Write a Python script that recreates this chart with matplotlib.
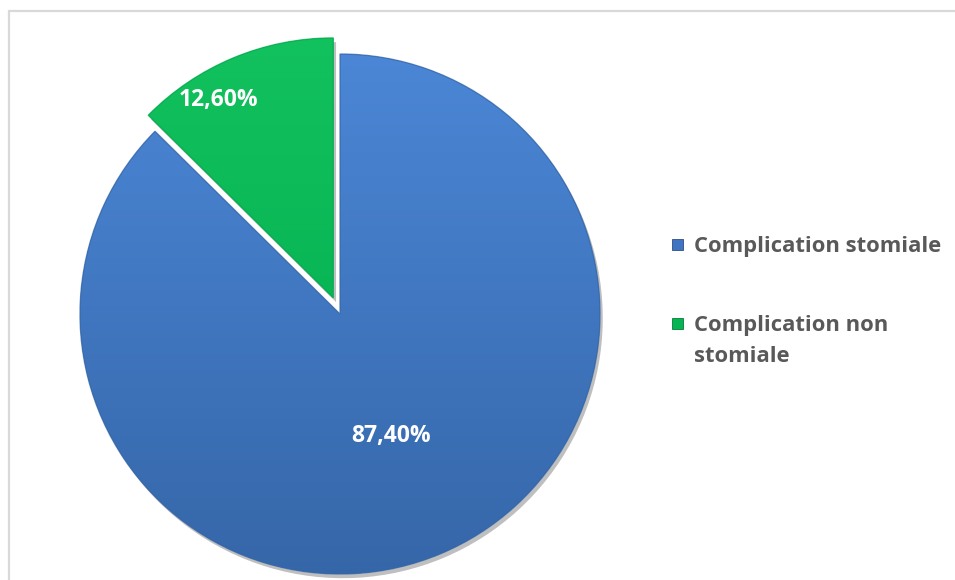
import numpy as np
import matplotlib
matplotlib.use("Agg")
import matplotlib.pyplot as plt
import matplotlib.patheffects as pe
from matplotlib.patches import Rectangle, PathPatch
from matplotlib.colors import LinearSegmentedColormap

categories = ["Complication stomiale", "Complication non\nstomiale"]
values = [87.40, 12.60]
explode = [0.0, 0.067]

# top/bottom shades for each slice
shades = [("#4c88d8", "#3566a8"), ("#12c25e", "#00a94c")]
legend_colors = ["#3f74c2", "#06b552"]
label_dist = [0.51, 0.88]
label_turn = [0.0, 7.5]   # degrees added to the slice mid-angle

W, H = 955, 580
cx, cy, R = 340, 266, 260   # pie centre (pixels from bottom) and radius
M = 1.15                    # axes half-width in pie radii

fig = plt.figure(figsize=(W / 100, H / 100), dpi=100)
fig.patch.set_facecolor("white")

# light chart-area frame
fig.add_artist(Rectangle((9 / W, -0.1), 1.2, (H - 11) / H + 0.1,
                         transform=fig.transFigure, fill=False,
                         edgecolor="#d9d9d9", linewidth=1.6))

ax = fig.add_axes([(cx - M * R) / W, (cy - M * R) / H, 2 * M * R / W, 2 * M * R / H])
ax.axis("off")

wedges, _ = ax.pie(values, explode=explode, startangle=90, counterclock=False,
                   radius=1, center=(0, 0), frame=False,
                   colors=[s[1] for s in shades],
                   wedgeprops=dict(linewidth=0))

grad = np.linspace(0, 1, 256).reshape(-1, 1)
for w, (top, bot) in zip(wedges, shades):
    w.set_clip_on(False)
    w.set_path_effects([pe.SimplePatchShadow(offset=(2, -3), shadow_rgbFace="#000000",
                                             alpha=0.25), pe.Normal()])
    cmap = LinearSegmentedColormap.from_list("g", [bot, top])
    im = ax.imshow(grad, cmap=cmap, origin="lower", extent=(-1.1, 1.1, -1.02, 1.08),
                   aspect="auto", zorder=w.get_zorder() + 0.1, interpolation="bilinear")
    im.set_clip_path(w)
    # thin rim for a slightly bevelled look
    rim = PathPatch(w.get_path(), transform=w.get_transform(), fill=False,
                    edgecolor=bot, linewidth=1.0, alpha=0.7,
                    zorder=w.get_zorder() + 0.2)
    rim.set_clip_on(False)
    ax.add_patch(rim)
ax.set_xlim(-M, M)
ax.set_ylim(-M, M)

# percentage labels
for w, v, d, t in zip(wedges, values, label_dist, label_turn):
    ang = np.deg2rad((w.theta1 + w.theta2) / 2 + t)
    x0, y0 = w.center
    ax.text(x0 + d * np.cos(ang), y0 + d * np.sin(ang),
            f"{v:.2f}%".replace(".", ","), ha="center", va="center",
            color="white", fontsize=16.5, fontweight="bold",
            family="Open Sans", zorder=5)

# legend
leg_y = [244, 323]
for col, lab, ly in zip(legend_colors, categories, leg_y):
    fig.add_artist(Rectangle((672 / W, (H - ly - 5.5) / H), 11 / W, 11 / H,
                             transform=fig.transFigure, facecolor=col,
                             edgecolor="#2d4f80" if col == legend_colors[0] else "#067a3a",
                             linewidth=0.6))
    fig.text(694 / W, (H - ly + 8) / H, lab, ha="left", va="top",
             color="#595959", fontsize=15.8, fontweight="bold", family="Open Sans",
             linespacing=1.65)

fig.savefig("out.png", dpi=100)
